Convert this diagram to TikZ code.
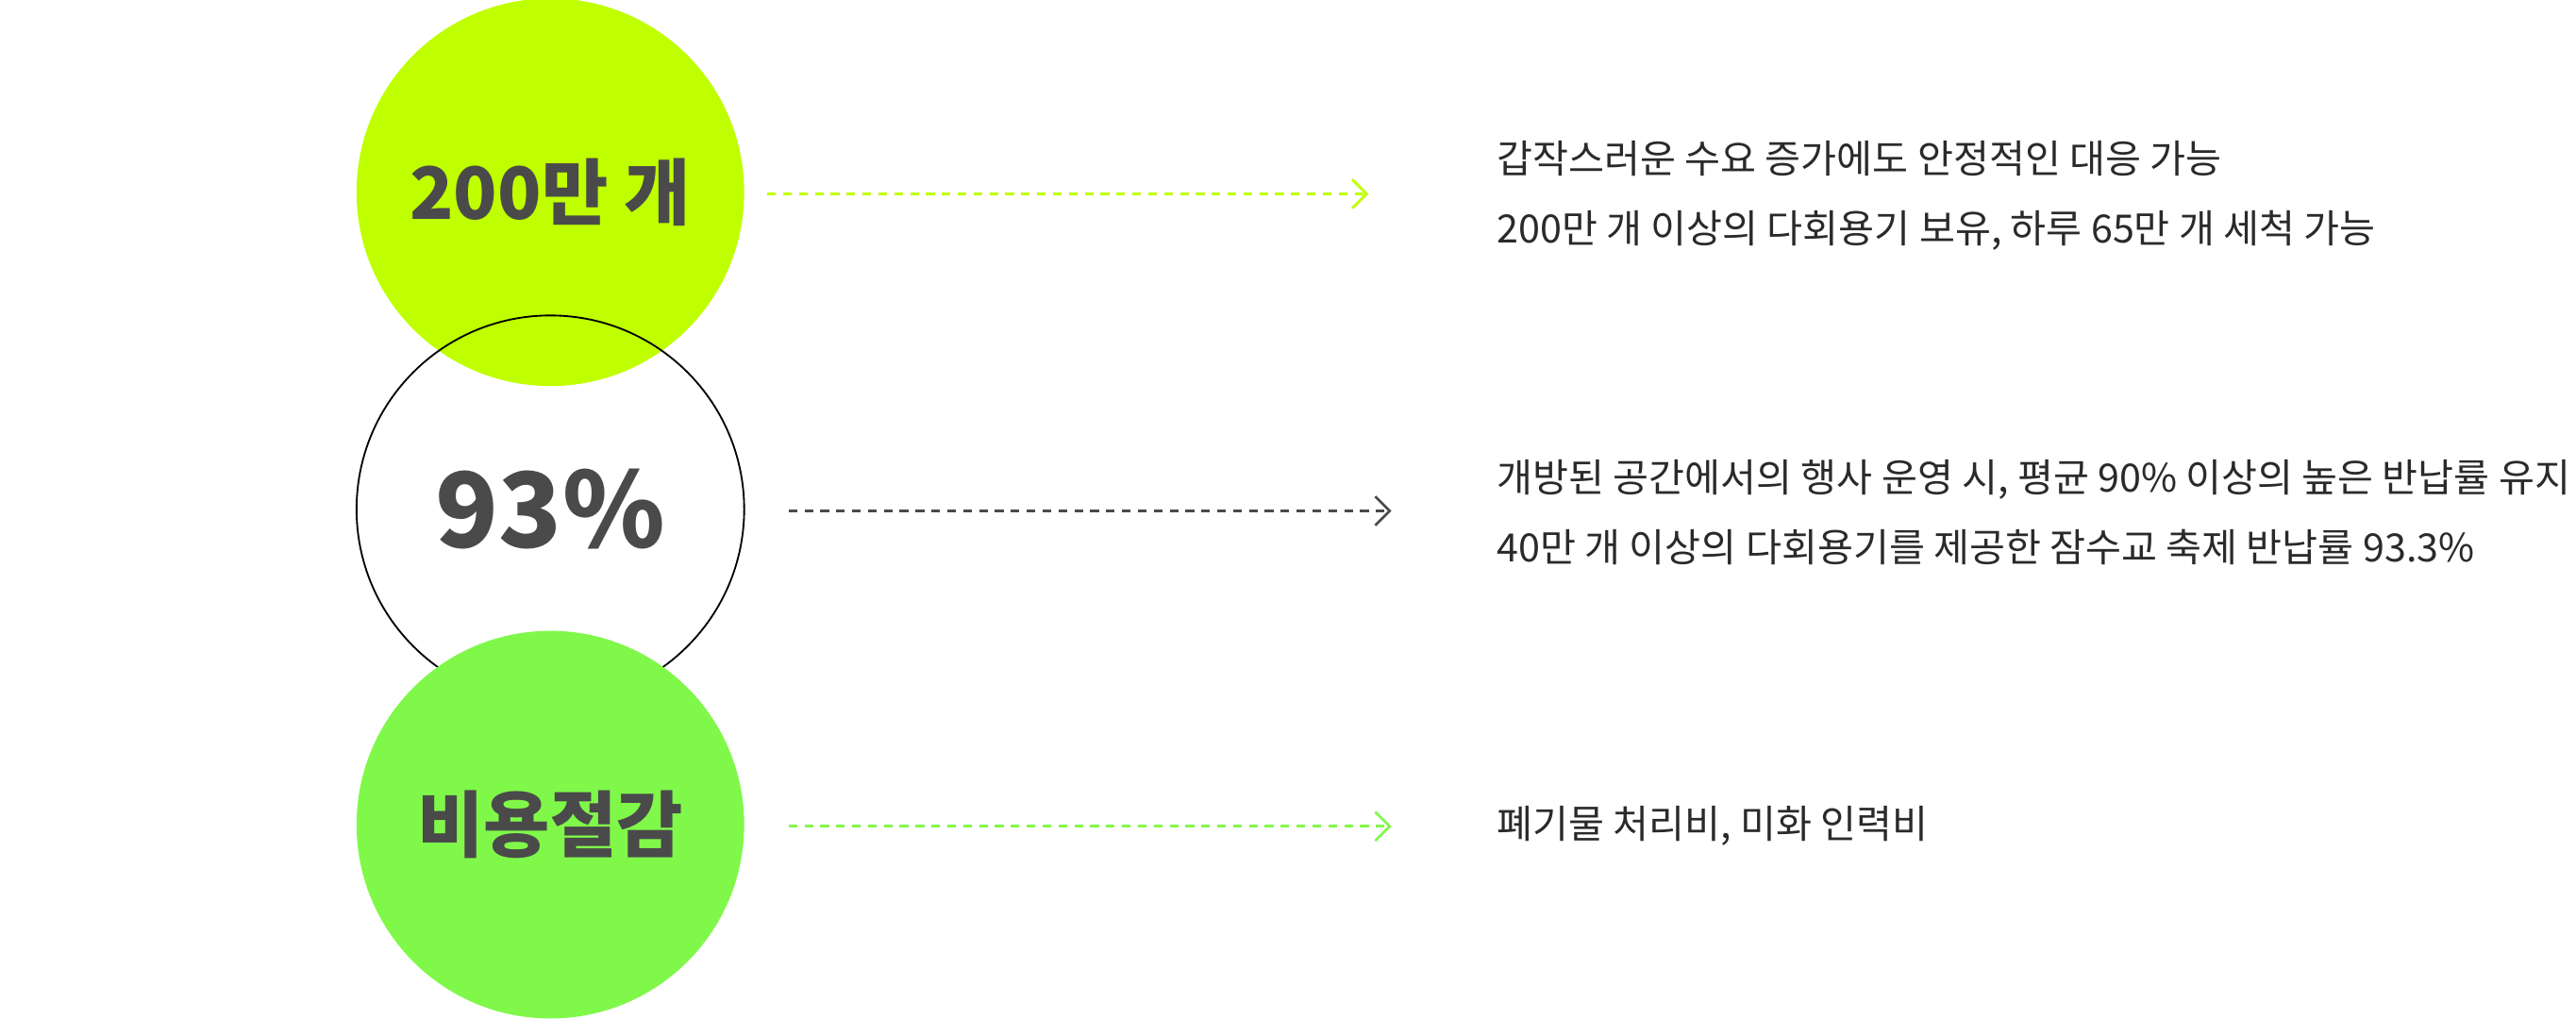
\documentclass[tikz,border=0pt]{standalone}
\usepackage{fontspec}
\setmainfont{Noto Sans CJK KR}
\usetikzlibrary{positioning,arrows.meta}
\definecolor{lime}{HTML}{BFFF00}
\definecolor{leaf}{HTML}{80F84A}
\definecolor{ink}{HTML}{4A4A4A}
\definecolor{txt}{HTML}{2A2A2A}
\begin{document}
\begin{tikzpicture}[x=0.02cm,y=-0.02cm,
  bubble/.style={circle,minimum size=4.72cm,inner sep=0pt,text=ink,font=\bfseries\fontsize{25}{30}\selectfont},
  lead/.style={dashed,dash pattern=on 3pt off 2.5pt,line width=0.9pt,-{Straight Barb[length=5pt,width=10pt]}},
  note/.style={anchor=west,align=left,text=txt,font=\fontsize{13.5}{24}\selectfont}]
  \useasboundingbox (0,0) rectangle (1568,620);
  \node[bubble,fill=lime] (big) at (335,117) {200만 개};
  \node[bubble,draw=black,line width=0.6pt,font=\bfseries\fontsize{36}{40}\selectfont] (rate) at (335,310) {93\%};
  \node[bubble,fill=leaf] (cost) at (335,502) {비용절감};
  % arrows
  \coordinate (s1) at (467,118); \coordinate (e1) at (833,118);
  \coordinate (s2) at (480,311); \coordinate (e2) at (847,311);
  \coordinate (s3) at (480,503); \coordinate (e3) at (847,503);
  \draw[lead,draw=lime] (s1) -- (e1);
  \draw[lead,draw=ink] (s2) -- (e2);
  \draw[lead,draw=leaf] (s3) -- (e3);
  % notes
  \node[note] (n1) at (905,119) {갑작스러운 수요 증가에도 안정적인 대응 가능\\200만 개 이상의 다회용기 보유, 하루 65만 개 세척 가능};
  \node[note] (n2) at (905,312) {개방된 공간에서의 행사 운영 시, 평균 90\% 이상의 높은 반납률 유지\\40만 개 이상의 다회용기를 제공한 잠수교 축제 반납률 93.3\%};
  \node[note] (n3) at (905,503) {폐기물 처리비, 미화 인력비};
\end{tikzpicture}
\end{document}
